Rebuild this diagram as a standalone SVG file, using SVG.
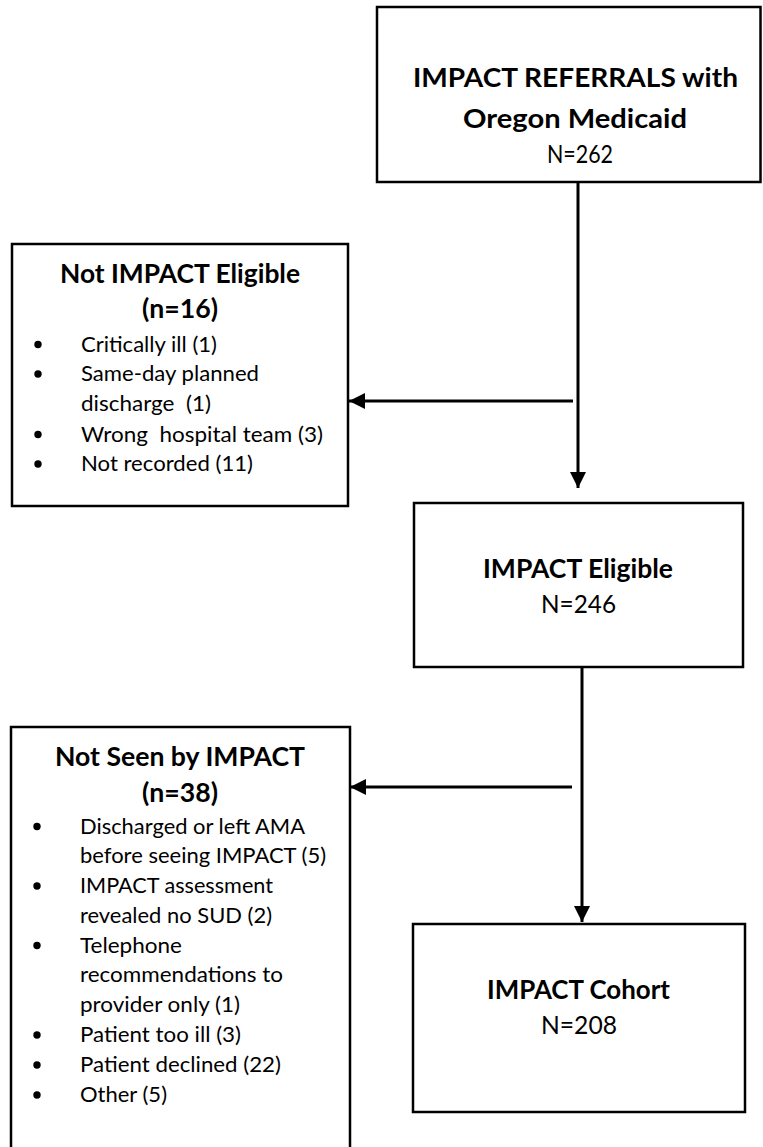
<svg xmlns="http://www.w3.org/2000/svg" width="763" height="1147" viewBox="0 0 763 1147">
<style>
.box{fill:#fff;stroke:#000;stroke-width:2.5}
.t{font-family:Lato,"Liberation Sans",sans-serif;fill:#000}
.b{font-weight:bold;font-size:26px}
.n{font-size:24.5px}
.s{font-size:21px}
.c{stroke:#000;stroke-width:3;fill:none}
.dot{fill:#000}
</style>
<defs>
<marker id="ah" markerUnits="userSpaceOnUse" markerWidth="17" markerHeight="17" refX="16" refY="8" orient="auto">
<path d="M0,0 L16,8 L0,16 z" fill="#000"/>
</marker>
</defs>
<rect width="763" height="1147" fill="#fff"/>
<g id="connectors">
<line class="c" x1="578" y1="182" x2="578" y2="488" marker-end="url(#ah)"/>
<line class="c" x1="573" y1="401" x2="349" y2="401" marker-end="url(#ah)"/>
<line class="c" x1="582" y1="667" x2="582" y2="922" marker-end="url(#ah)"/>
<line class="c" x1="572" y1="787" x2="350" y2="787" marker-end="url(#ah)"/>
</g>
<g id="referrals">
<rect class="box" x="377" y="7" width="383.5" height="175"/>
<text class="t b" x="413" y="87" textLength="325" lengthAdjust="spacingAndGlyphs">IMPACT REFERRALS with</text>
<text class="t b" x="463" y="128" textLength="224" lengthAdjust="spacingAndGlyphs">Oregon Medicaid</text>
<text class="t n" x="547" y="163" textLength="66" lengthAdjust="spacingAndGlyphs">N=262</text>
</g>
<g id="not-eligible">
<rect class="box" x="12" y="244" width="336" height="262"/>
<text class="t b" x="60" y="283" textLength="240" lengthAdjust="spacingAndGlyphs">Not IMPACT Eligible</text>
<text class="t b" x="142" y="318" textLength="76" lengthAdjust="spacingAndGlyphs">(n=16)</text>
<circle class="dot" cx="38" cy="344.5" r="3.7"/>
<circle class="dot" cx="38" cy="374" r="3.7"/>
<circle class="dot" cx="38" cy="434.5" r="3.7"/>
<circle class="dot" cx="38" cy="464" r="3.7"/>
<text class="t s" x="81" y="351.5" textLength="136" lengthAdjust="spacingAndGlyphs">Critically ill (1)</text>
<text class="t s" x="81" y="381" textLength="178" lengthAdjust="spacingAndGlyphs">Same-day planned</text>
<text class="t s" x="81" y="410.7" textLength="130" lengthAdjust="spacingAndGlyphs" xml:space="preserve">discharge  (1)</text>
<text class="t s" x="81" y="441.5" textLength="242" lengthAdjust="spacingAndGlyphs" xml:space="preserve">Wrong  hospital team (3)</text>
<text class="t s" x="81" y="470.7" textLength="172" lengthAdjust="spacingAndGlyphs">Not recorded (11)</text>
</g>
<g id="eligible">
<rect class="box" x="414" y="503" width="329" height="164"/>
<text class="t b" x="483" y="578" textLength="190" lengthAdjust="spacingAndGlyphs">IMPACT Eligible</text>
<text class="t n" x="541" y="613" textLength="75" lengthAdjust="spacingAndGlyphs">N=246</text>
</g>
<g id="not-seen">
<rect class="box" x="11" y="727" width="339" height="440"/>
<text class="t b" x="55" y="766" textLength="250" lengthAdjust="spacingAndGlyphs">Not Seen by IMPACT</text>
<text class="t b" x="142" y="802" textLength="76" lengthAdjust="spacingAndGlyphs">(n=38)</text>
<circle class="dot" cx="37" cy="826.5" r="3.7"/>
<circle class="dot" cx="37" cy="886" r="3.7"/>
<circle class="dot" cx="37" cy="945.5" r="3.7"/>
<circle class="dot" cx="37" cy="1035" r="3.7"/>
<circle class="dot" cx="37" cy="1065" r="3.7"/>
<circle class="dot" cx="37" cy="1095" r="3.7"/>
<text class="t s" x="80" y="833.5" textLength="225" lengthAdjust="spacingAndGlyphs">Discharged or left AMA</text>
<text class="t s" x="80" y="863.3" textLength="246" lengthAdjust="spacingAndGlyphs">before seeing IMPACT (5)</text>
<text class="t s" x="80" y="893" textLength="193" lengthAdjust="spacingAndGlyphs">IMPACT assessment</text>
<text class="t s" x="80" y="922.8" textLength="192" lengthAdjust="spacingAndGlyphs">revealed no SUD (2)</text>
<text class="t s" x="80" y="952.5" textLength="102" lengthAdjust="spacingAndGlyphs">Telephone</text>
<text class="t s" x="80" y="982.3" textLength="203" lengthAdjust="spacingAndGlyphs">recommendations to</text>
<text class="t s" x="80" y="1012" textLength="160" lengthAdjust="spacingAndGlyphs">provider only (1)</text>
<text class="t s" x="80" y="1042" textLength="161" lengthAdjust="spacingAndGlyphs">Patient too ill (3)</text>
<text class="t s" x="80" y="1072" textLength="201" lengthAdjust="spacingAndGlyphs">Patient declined (22)</text>
<text class="t s" x="80" y="1102" textLength="87" lengthAdjust="spacingAndGlyphs">Other (5)</text>
</g>
<g id="cohort">
<rect class="box" x="413" y="924" width="332" height="188"/>
<text class="t b" x="487" y="999" textLength="183" lengthAdjust="spacingAndGlyphs">IMPACT Cohort</text>
<text class="t n" x="541" y="1034" textLength="76" lengthAdjust="spacingAndGlyphs">N=208</text>
</g>
</svg>
